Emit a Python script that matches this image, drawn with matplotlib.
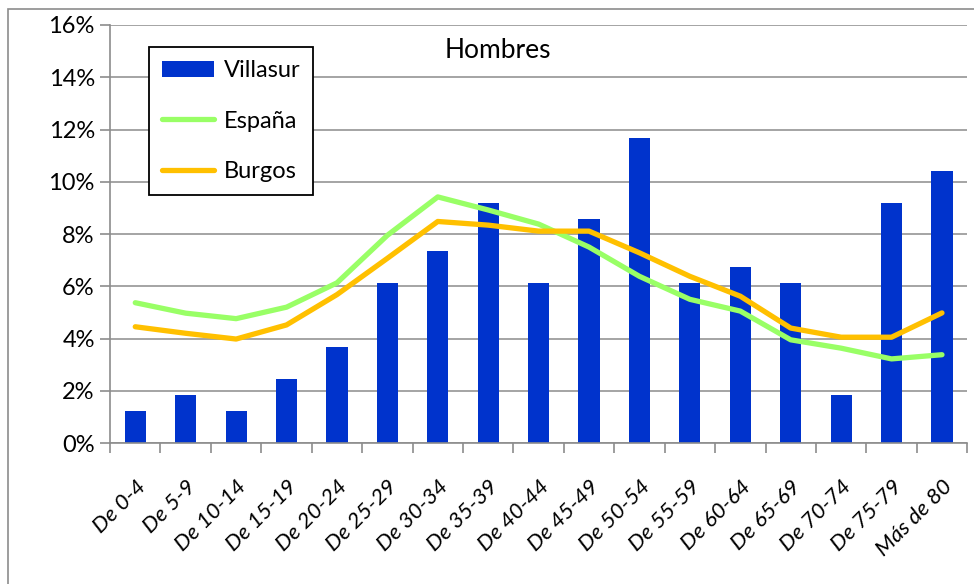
import matplotlib
matplotlib.use('Agg')
import matplotlib.pyplot as plt
import numpy as np
from matplotlib.ticker import FuncFormatter, FixedLocator
from matplotlib.patches import Rectangle

####################################
# Data
####################################

categories = ['De 0-4', 'De 5-9', 'De 10-14', 'De 15-19', 'De 20-24', 'De 25-29',
              'De 30-34', 'De 35-39', 'De 40-44', 'De 45-49', 'De 50-54', 'De 55-59',
              'De 60-64', 'De 65-69', 'De 70-74', 'De 75-79', 'Más de 80']

villasur = [1.23, 1.84, 1.23, 2.45, 3.68, 6.13, 7.36, 9.20, 6.13, 8.59, 11.66,
            6.13, 6.75, 6.13, 1.84, 9.20, 10.43]
espana = [5.37, 4.97, 4.76, 5.20, 6.13, 7.95, 9.42, 8.92, 8.38, 7.50, 6.38,
          5.50, 5.05, 3.95, 3.63, 3.22, 3.38]
burgos = [4.45, 4.20, 3.98, 4.52, 5.68, 7.07, 8.48, 8.34, 8.11, 8.11, 7.28,
          6.38, 5.62, 4.40, 4.05, 4.05, 4.98]

# Colours
BLUE = '#0033CC'
GREEN = '#99FF66'
ORANGE = '#FFC000'
GRID = '#8C8C8C'

plt.rcParams['font.family'] = ['Lato', 'DejaVu Sans']

####################################
# Draw
####################################

fig = plt.figure(figsize=(9.74, 5.84), dpi=100)
ax = fig.add_axes([0.113, 0.2414, 0.88, 0.7158])

# outer chart border (only left/top visible)
fig.patches.append(Rectangle((8 / 974, -0.1), 1.2, 1 - 9 / 584 + 0.1, transform=fig.transFigure,
                             fill=False, edgecolor=GRID, lw=1.2))

x = np.arange(len(categories))
bars = ax.bar(x, villasur, width=0.42, color=BLUE, label='Villasur', zorder=2)
l1, = ax.plot(x, espana, color=GREEN, lw=3.8, label='España', zorder=3, solid_capstyle='round')
l2, = ax.plot(x, burgos, color=ORANGE, lw=3.8, label='Burgos', zorder=3, solid_capstyle='round')

ax.set_xlim(-0.5, len(categories) - 0.5)
ax.set_ylim(0, 16)
ax.set_yticks(np.arange(0, 17, 2))
ax.yaxis.set_major_formatter(FuncFormatter(lambda v, p: '%d%%' % v))
ax.grid(axis='y', color=GRID, lw=1.1, zorder=0)
ax.set_axisbelow(True)

for s in ['top', 'right']:
    ax.spines[s].set_visible(False)
for s in ['left', 'bottom']:
    ax.spines[s].set_color(GRID)
    ax.spines[s].set_linewidth(1.2)

ax.tick_params(axis='y', length=7, width=1.2, color=GRID, labelsize=17, pad=4)

# labels at category centres, tick marks at boundaries
ax.set_xticks(x)
ax.set_xticklabels(categories, rotation=45, ha='right', rotation_mode='anchor',
                   fontsize=16, fontstyle='italic')
ax.tick_params(axis='x', which='major', length=0, pad=24)
ax.xaxis.set_minor_locator(FixedLocator(np.arange(-0.5, len(categories), 1)))
ax.tick_params(axis='x', which='minor', length=7, width=1.2, color=GRID)

ax.text(0.453, 0.94, 'Hombres', transform=ax.transAxes, ha='center', va='center', fontsize=19)

leg = ax.legend([bars, l1, l2], ['Villasur', 'España', 'Burgos'],
                loc='upper left', bbox_to_anchor=(0.0455, 0.947), borderaxespad=0,
                fontsize=17, labelspacing=1.25, handlelength=2.2, handletextpad=0.4,
                fancybox=False, framealpha=1, edgecolor='black', borderpad=0.55)
leg.get_frame().set_linewidth(1.3)

fig.savefig('out.png', dpi=100)
